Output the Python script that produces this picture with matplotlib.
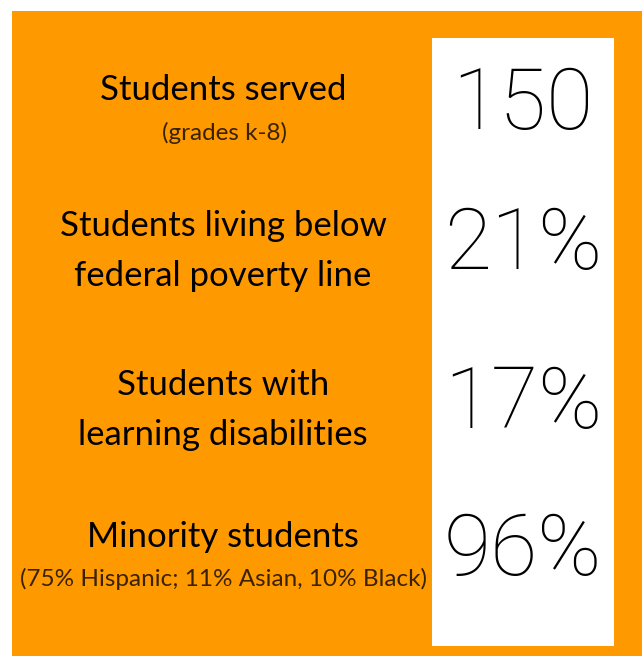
import matplotlib
matplotlib.use("Agg")
import matplotlib.pyplot as plt
from matplotlib.patches import Rectangle

labels = ["Students served", "Students living below\nfederal poverty line",
          "Students with\nlearning disabilities", "Minority students"]
sublabels = ["(grades k-8)", "", "", "(75% Hispanic; 11% Asian, 10% Black)"]
values = ["150", "21%", "17%", "96%"]

label_y = [90, 251, 410, 537]
sub_y = [133, None, None, 579]
value_y = [106, 246, 405, 552]

W, H = 642, 656
fig = plt.figure(figsize=(W / 100, H / 100), dpi=100)
ax = fig.add_axes([0, 0, 1, 1])
ax.set_xlim(0, W)
ax.set_ylim(H, 0)
ax.axis("off")

orange = "#FF9900"
ax.add_patch(Rectangle((12, 11), W - 12, H - 11, color=orange, lw=0))
ax.add_patch(Rectangle((432, 38), 182, 608, color="white", lw=0))

fam = ["Lato", "DejaVu Sans"]
for lab, ly in zip(labels, label_y):
    ax.text(223, ly, lab, ha="center", va="center", fontsize=25, family=fam,
            weight="normal", color="black", linespacing=1.7)
for sub, sy in zip(sublabels, sub_y):
    if sub:
        ax.text(224, sy, sub, ha="center", va="center", fontsize=17.5, family=fam,
                weight="normal", color="#3a2200")
for val, vy in zip(values, value_y):
    ax.text(523, vy, val, ha="center", va="center", fontsize=62,
            family=["Roboto", "DejaVu Sans"], weight="light", color="black")

fig.savefig("out.png", dpi=100)
